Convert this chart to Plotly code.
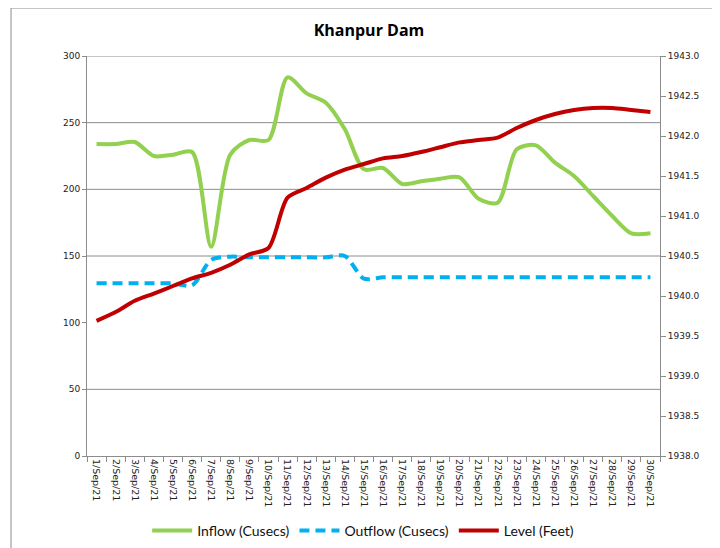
import plotly.graph_objects as go

dates = [f"{d}/Sep/21" for d in range(1, 31)]
inflow = [234, 234, 235.5, 225, 226, 228, 157, 226, 237, 237,
          284, 272, 265, 245, 215, 216, 204, 206, 208, 209,
          193, 190, 230, 233, 220, 210, 195, 180, 167, 167]
outflow = [129.5, 129.5, 129.5, 129.5, 129.5, 128, 147, 149.5, 149, 149,
           149, 149, 149, 150, 133, 134, 134, 134, 134, 134,
           134, 134, 134, 134, 134, 134, 134, 134, 134, 134]
level = [1939.69, 1939.80, 1939.94, 1940.03, 1940.125, 1940.22, 1940.29, 1940.39, 1940.52, 1940.60,
         1941.23, 1941.35, 1941.48, 1941.58, 1941.65, 1941.72, 1941.75, 1941.80, 1941.86, 1941.92,
         1941.95, 1941.98, 1942.10, 1942.20, 1942.275, 1942.325, 1942.35, 1942.35, 1942.325, 1942.30]
left_ticks = [0, 50, 100, 150, 200, 250, 300]
right_ticks = [1938.0, 1938.5, 1939.0, 1939.5, 1940.0, 1940.5, 1941.0, 1941.5, 1942.0, 1942.5, 1943.0]
grid_values = [50, 150, 200, 250, 300]

fig = go.Figure()
fig.add_trace(go.Scatter(x=dates, y=inflow, name="Inflow (Cusecs)", mode="lines",
                         line=dict(color="#92D050", width=4, shape="spline", smoothing=0.8)))
fig.add_trace(go.Scatter(x=dates, y=outflow, name="Outflow (Cusecs)", mode="lines",
                         line=dict(color="#00B0F0", width=4, dash="10px,6px", shape="spline", smoothing=0.8)))
fig.add_trace(go.Scatter(x=dates, y=level, name="Level (Feet)", mode="lines", yaxis="y2",
                         line=dict(color="#C00000", width=4, shape="spline", smoothing=0.8)))

shapes = [dict(type="line", xref="paper", x0=0, x1=1, yref="y", y0=v, y1=v,
               line=dict(color="#8c8c8c", width=1), layer="below") for v in grid_values]
shapes.append(dict(type="rect", xref="paper", yref="paper", x0=-0.1326, x1=1.101, y0=-0.3, y1=1.12,
                   line=dict(color="#8c8c8c", width=1), fillcolor="rgba(0,0,0,0)", layer="below"))

fig.update_layout(
    width=712, height=540,
    margin=dict(l=79, r=60, t=48, b=92),
    paper_bgcolor="white", plot_bgcolor="white",
    title=dict(text="<b>Khanpur Dam</b>", x=0.507, xanchor="center", xref="container",
               y=1 - 22 / 540, yanchor="middle",
               font=dict(family="Open Sans, sans-serif", size=16, color="#000")),
    font=dict(family="DejaVu Sans, sans-serif", size=9, color="#222"),
    xaxis=dict(type="category", tickangle=90, tickson="boundaries", ticks="outside", ticklen=5,
               tickcolor="#8c8c8c", showline=True, linecolor="#8c8c8c", linewidth=1,
               showgrid=False, tickfont=dict(size=9.5, color="#222"), range=[-0.5, 29.5],
               automargin=False),
    yaxis=dict(range=[0, 300], tickvals=left_ticks, ticks="outside", ticklen=4, tickcolor="#8c8c8c",
               showline=True, linecolor="#8c8c8c", linewidth=1, showgrid=False, zeroline=False,
               tickfont=dict(size=9, color="#222"), automargin=False),
    yaxis2=dict(range=[1938, 1943], tickvals=right_ticks, tickformat=".1f", overlaying="y", side="right",
                ticks="outside", ticklen=5, tickcolor="#8c8c8c", showline=True, linecolor="#8c8c8c",
                linewidth=1, showgrid=False, zeroline=False, tickfont=dict(size=9, color="#222"),
                automargin=False),
    legend=dict(orientation="h", x=0.482, xanchor="center", yref="container", y=(540 - 523) / 540,
                yanchor="middle",
                font=dict(family="Lato, Open Sans, sans-serif", size=14, color="#111"),
                itemwidth=40, traceorder="normal"),
    shapes=shapes,
    showlegend=True,
)

fig.write_html("out.html")
